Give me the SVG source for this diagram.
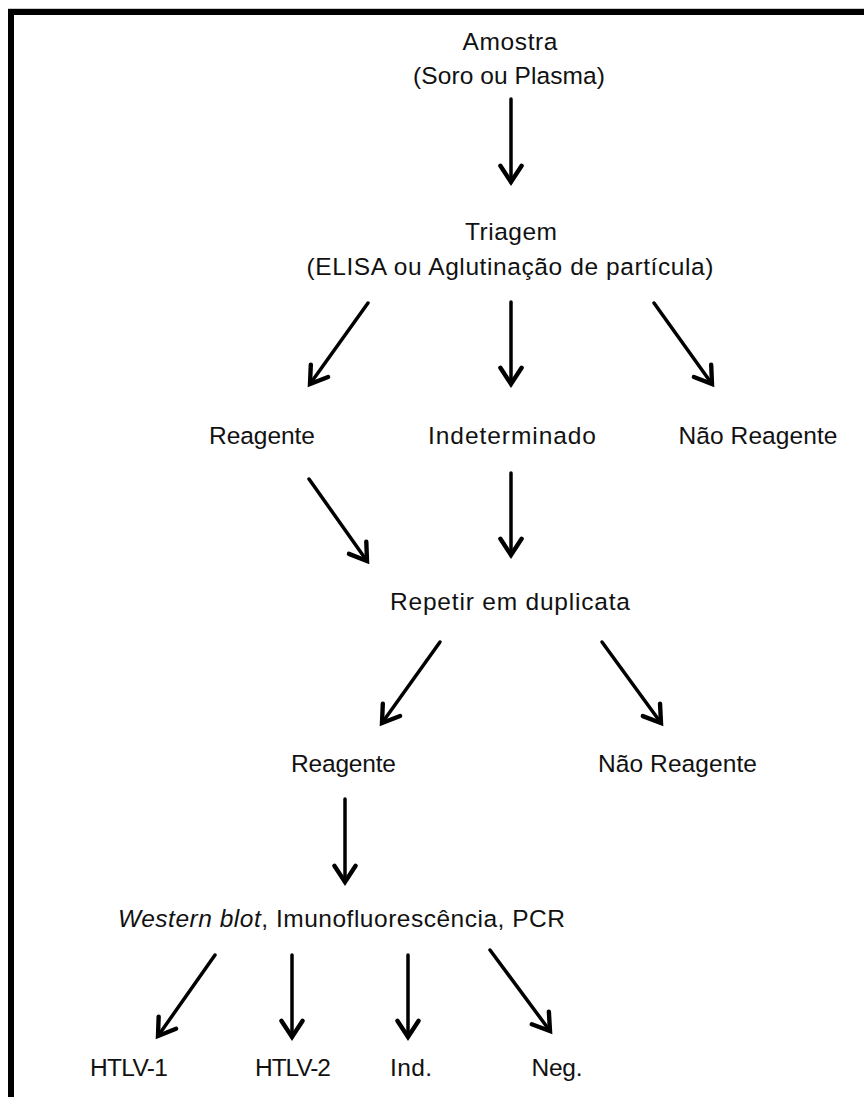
<svg xmlns="http://www.w3.org/2000/svg" width="864" height="1097" viewBox="0 0 864 1097">
<style>
text{font-family:"Liberation Sans",Arial,sans-serif;font-size:24.5px;fill:#111;text-anchor:middle}
.c line{stroke:#000;stroke-width:3.5;stroke-linecap:round;marker-end:url(#ah)}
.it{font-style:italic}
</style>
<defs>
<marker id="ah" markerUnits="userSpaceOnUse" markerWidth="30" markerHeight="30" refX="0" refY="0" viewBox="-16 -12 20 24" orient="auto" overflow="visible">
<path d="M-13,-8.5 L0,0 L-13,8.5" fill="none" stroke="#000" stroke-width="3.5" stroke-linecap="round" stroke-linejoin="miter"/>
</marker>
</defs>
<rect x="0" y="0" width="864" height="1097" fill="#fff"/>
<g id="border">
<line x1="8" y1="8.5" x2="864" y2="8.5" stroke="#ccc" stroke-width="1"/>
<rect x="8" y="9" width="856" height="6" fill="#000"/>
<rect x="8" y="9" width="6" height="1088" fill="#000"/>
</g>
<g id="n-amostra"><text x="510" y="50" textLength="95">Amostra</text><text x="509" y="84" textLength="192">(Soro ou Plasma)</text></g>
<g id="n-triagem"><text x="511" y="240" textLength="92">Triagem</text><text x="510" y="275" textLength="407">(ELISA ou Aglutinação de partícula)</text></g>
<g id="n-reagente1"><text x="262" y="444" textLength="106">Reagente</text></g>
<g id="n-indeterminado"><text x="512" y="444" textLength="168">Indeterminado</text></g>
<g id="n-naoreagente1"><text x="758" y="444" textLength="159">Não Reagente</text></g>
<g id="n-repetir"><text x="510" y="610" textLength="240">Repetir em duplicata</text></g>
<g id="n-reagente2"><text x="343.5" y="772" textLength="105">Reagente</text></g>
<g id="n-naoreagente2"><text x="677.5" y="772" textLength="159">Não Reagente</text></g>
<g id="n-testes"><text x="341.5" y="927" textLength="447"><tspan class="it">Western blot</tspan>, Imunofluorescência,  PCR</text></g>
<g id="n-htlv1"><text x="129" y="1076" textLength="78">HTLV-1</text></g>
<g id="n-htlv2"><text x="293" y="1076" textLength="76">HTLV-2</text></g>
<g id="n-ind"><text x="411" y="1076" textLength="42">Ind.</text></g>
<g id="n-neg"><text x="557" y="1076" textLength="51">Neg.</text></g>
<g id="connectors" class="c">
<line x1="511" y1="99" x2="511" y2="182"/>
<line x1="368" y1="303" x2="310" y2="384"/>
<line x1="511" y1="302" x2="511" y2="384"/>
<line x1="654" y1="303" x2="712" y2="384"/>
<line x1="309" y1="479" x2="367" y2="561"/>
<line x1="511" y1="473" x2="511" y2="555"/>
<line x1="440" y1="642" x2="382" y2="723"/>
<line x1="602" y1="642" x2="661" y2="723"/>
<line x1="345" y1="799" x2="345" y2="882"/>
<line x1="215" y1="955" x2="158" y2="1036"/>
<line x1="292" y1="955" x2="292" y2="1037"/>
<line x1="408" y1="955" x2="408" y2="1037"/>
<line x1="490" y1="950" x2="550" y2="1031"/>
</g>
</svg>
